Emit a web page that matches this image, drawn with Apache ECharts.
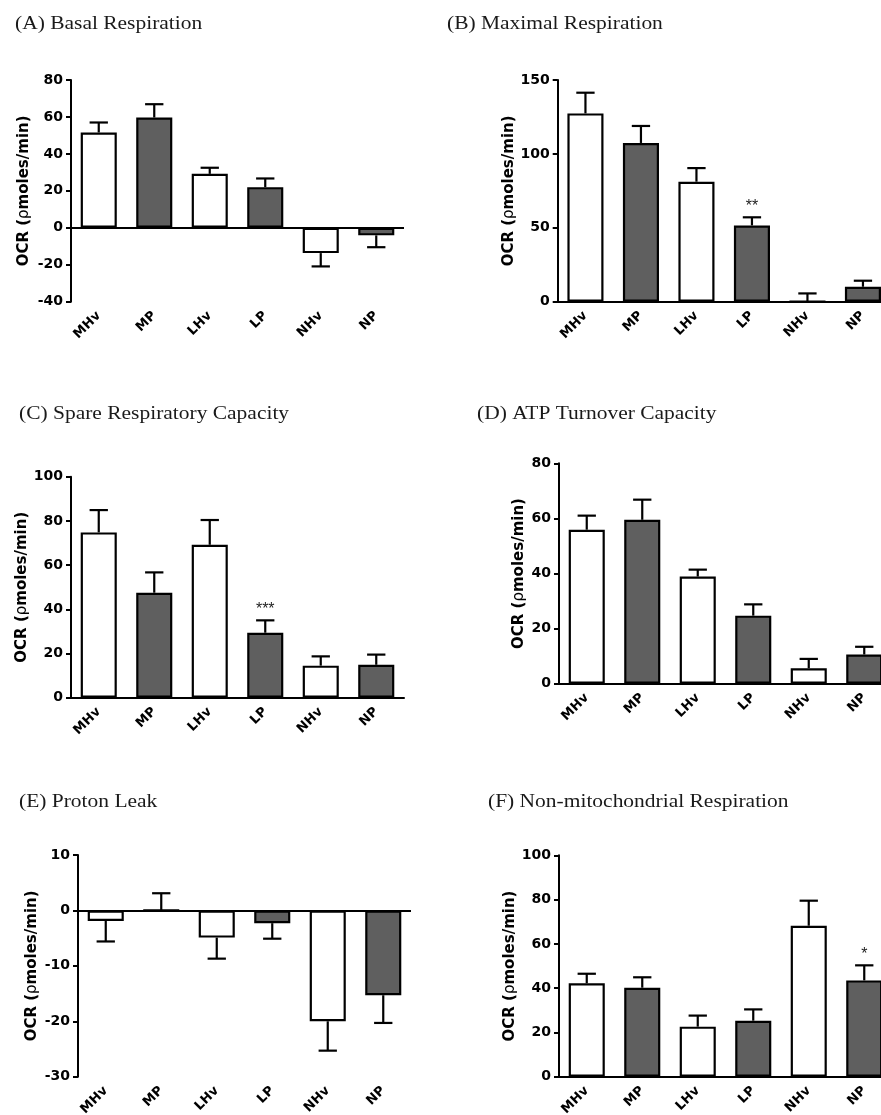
<!DOCTYPE html>
<html><head><meta charset="utf-8">
<script src="https://cdn.jsdelivr.net/npm/echarts@6/dist/echarts.min.js"></script>
<style>html,body{margin:0;padding:0;background:#fff}#c{width:881px;height:1115px}</style>
</head><body><div id="c"></div>
<script>
// ---- data ----
const categories = ['MHv', 'MP', 'LHv', 'LP', 'NHv', 'NP'];

const basalMean = [51.6, 59.7, 29.2, 22.0, -13.7, -4.1];
const basalSem  = [5.4, 7.2, 3.3, 4.7, 7.2, 6.4];
const basalSig  = ['', '', '', '', '', ''];

const maximalMean = [127.4, 107.4, 81.2, 51.6, 0, 10.1];
const maximalSem  = [14.0, 11.5, 9.2, 5.5, 5.6, 4.1];
const maximalSig  = ['', '', '', '**', '', ''];

const spareMean = [74.8, 47.5, 69.2, 29.4, 14.5, 14.9];
const spareSem  = [10.1, 9.2, 11.2, 5.6, 4.2, 4.6];
const spareSig  = ['', '', '', '***', '', ''];

const atpMean = [55.9, 59.5, 38.9, 24.7, 5.6, 10.6];
const atpSem  = [5.1, 7.3, 2.5, 4.1, 3.4, 2.8];
const atpSig  = ['', '', '', '', '', ''];

const leakMean = [-1.9, 0, -4.9, -2.3, -20.0, -15.3];
const leakSem  = [3.7, 3.1, 3.8, 2.8, 5.3, 5.0];
const leakSig  = ['', '', '', '', '', ''];

const nonMitoMean = [42.2, 40.2, 22.6, 25.3, 68.2, 43.5];
const nonMitoSem  = [4.3, 4.7, 5.0, 5.1, 11.3, 6.8];
const nonMitoSig  = ['', '', '', '', '', '*'];

const titles = ['(A) Basal Respiration', '(B) Maximal Respiration', '(C) Spare Respiratory Capacity',
                '(D) ATP Turnover Capacity', '(E) Proton Leak', '(F) Non-mitochondrial Respiration'];
const yTicksA = [-40, 80, 20];
const yTicksB = [0, 150, 50];
const yTicksC = [0, 100, 20];
const yTicksD = [0, 80, 20];
const yTicksE = [-30, 10, 10];
const yTicksF = [0, 100, 20];
const yLabelParts = ['OCR (', 'ρ', 'moles/min)'];

// ---- layout / style ----
const panels = [
  {mean: basalMean, sem: basalSem, sig: basalSig, ticks: yTicksA, grid: {left: 71, top: 80, width: 333, height: 221.7}, gap: 39, title: [15, 15]},
  {mean: maximalMean, sem: maximalSem, sig: maximalSig, ticks: yTicksB, grid: {left: 557.7, top: 80, width: 333, height: 221.7}, gap: 40, title: [447, 15]},
  {mean: spareMean, sem: spareSem, sig: spareSig, ticks: yTicksC, grid: {left: 71, top: 476.7, width: 333, height: 221}, gap: 39, title: [19, 405]},
  {mean: atpMean, sem: atpSem, sig: atpSig, ticks: yTicksD, grid: {left: 559, top: 463.3, width: 333, height: 220.4}, gap: 32, title: [477, 405]},
  {mean: leakMean, sem: leakSem, sig: leakSig, ticks: yTicksE, grid: {left: 78, top: 855, width: 333, height: 221.7}, gap: 38, title: [19, 793]},
  {mean: nonMitoMean, sem: nonMitoSem, sig: nonMitoSig, ticks: yTicksF, grid: {left: 559, top: 855.3, width: 333, height: 221.4}, gap: 41, title: [488, 793]}
];
const barFills = ['#ffffff', '#5f5f5f', '#ffffff', '#5f5f5f', '#ffffff', '#5f5f5f'];
const sans = '"DejaVu Sans", Verdana, sans-serif';
const serif = '"Liberation Serif", "Times New Roman", serif';

const option = {
  animation: false,
  backgroundColor: '#fff',
  graphic: [], grid: [], xAxis: [], yAxis: [], series: []
};

panels.forEach((p, k) => {
  option.graphic.push({
    type: 'text', left: p.title[0], top: p.title[1], scaleX: 1.13, originX: 0, silent: true,
    style: {text: titles[k], font: 'normal 19px ' + serif, fill: '#1a1a1a'}
  });
  option.grid.push(Object.assign({containLabel: false, outerBoundsMode: 'none'}, p.grid));
  const hasNeg = p.ticks[0] < 0;
  option.xAxis.push({
    type: 'category', gridIndex: k, data: categories,
    axisLine: {show: !hasNeg, onZero: false, lineStyle: {color: '#000', width: 2}},
    axisTick: {show: false},
    axisLabel: {rotate: 45, margin: 12, interval: 0, color: '#000', fontFamily: sans, fontWeight: 'bold', fontSize: 13}
  });
  option.yAxis.push({
    type: 'value', gridIndex: k, min: p.ticks[0], max: p.ticks[1], interval: p.ticks[2],
    name: '{b|' + yLabelParts[0] + '}{r|' + yLabelParts[1] + '}{b|' + yLabelParts[2] + '}',
    nameLocation: 'middle', nameGap: p.gap, nameRotate: 90,
    nameTextStyle: {rich: {
      b: {fontFamily: sans, fontWeight: 'bold', fontSize: 15, color: '#000'},
      r: {fontFamily: sans, fontWeight: 'normal', fontSize: 15, color: '#000'}
    }},
    splitLine: {show: false},
    axisLine: {show: true, lineStyle: {color: '#000', width: 2}},
    axisTick: {show: true, length: 5, lineStyle: {color: '#000', width: 2}},
    axisLabel: {margin: 8, color: '#000', fontFamily: sans, fontWeight: 'bold', fontSize: 14}
  });
  const barSeries = {
    type: 'bar', xAxisIndex: k, yAxisIndex: k, barWidth: '65%',
    data: p.mean.map((v, i) => ({value: v, itemStyle: {color: barFills[i]}})),
    itemStyle: {borderColor: '#000', borderWidth: 2.2},
    z: 2
  };
  if (hasNeg) {
    barSeries.markLine = {
      silent: true, symbol: 'none', label: {show: false},
      lineStyle: {color: '#000', width: 2, type: 'solid'},
      data: [{yAxis: 0}]
    };
  }
  option.series.push(barSeries);
  option.series.push({
    type: 'custom', xAxisIndex: k, yAxisIndex: k, z: 3,
    data: p.mean.map((v, i) => [i, v, p.sem[i]]),
    renderItem: (params, api) => {
      const idx = api.value(0), v = api.value(1), e = api.value(2);
      const end = v < 0 ? v - e : v + e;
      const p0 = api.coord([idx, v]);
      const p1 = api.coord([idx, end]);
      const hw = api.size([1, 0])[0] * 0.165;
      const style = {stroke: '#000', lineWidth: 2.2};
      const children = [
        {type: 'line', shape: {x1: p0[0], y1: p0[1], x2: p1[0], y2: p1[1]}, style},
        {type: 'line', shape: {x1: p1[0] - hw, y1: p1[1], x2: p1[0] + hw, y2: p1[1]}, style}
      ];
      const s = p.sig[params.dataIndex];
      if (s) {
        children.push({type: 'text', x: p1[0], y: p1[1] - 3,
          style: {text: s, fill: '#222', font: 'normal 16px "Liberation Sans", Arial, sans-serif', textAlign: 'center', textVerticalAlign: 'bottom'}});
      }
      return {type: 'group', children};
    }
  });
});

const chart = echarts.init(document.getElementById('c'), null, {renderer: 'canvas'});
chart.setOption(option);
</script>
</body></html>
